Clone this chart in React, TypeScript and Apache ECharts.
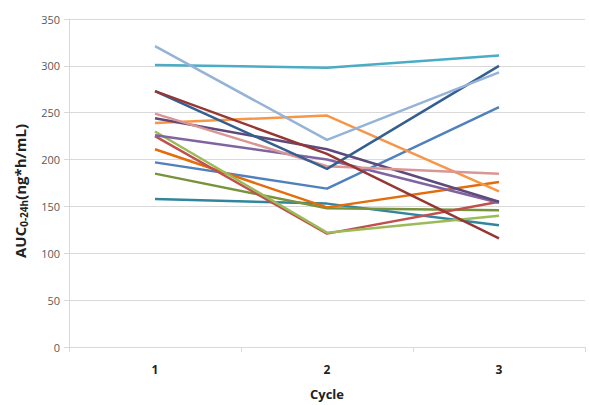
import React, { useEffect, useRef } from "react";
import * as echarts from "echarts";

const cycles = ["1", "2", "3"];
const yTicks = [0, 50, 100, 150, 200, 250, 300, 350];

const sTealDark = [158, 153, 130];
const sOlive = [185, 148, 146];
const sBlue = [197, 169, 256];
const sOrangeDark = [211, 149, 176];
const sRed = [225, 121, 155];
const sLightGreen = [230, 122, 140];
const sPurple2 = [226, 200, 154];
const sOrange = [239, 247, 166];
const sPurple1 = [244, 211, 155];
const sPink = [249, 193, 185];
const sDarkBlue = [273, 190, 300];
const sDarkRed = [273, 206, 116];
const sTeal = [301, 298, 311];
const sLightBlue = [321, 221, 293];

const seriesList: { data: number[]; color: string }[] = [
  { data: sTealDark, color: "#31859C" },
  { data: sOlive, color: "#77933C" },
  { data: sBlue, color: "#4F81BD" },
  { data: sOrangeDark, color: "#E46C0A" },
  { data: sRed, color: "#C0504D" },
  { data: sLightGreen, color: "#9BBB59" },
  { data: sPurple2, color: "#8064A2" },
  { data: sOrange, color: "#F79646" },
  { data: sPurple1, color: "#604A7B" },
  { data: sPink, color: "#D99694" },
  { data: sDarkBlue, color: "#365F91" },
  { data: sDarkRed, color: "#953735" },
  { data: sTeal, color: "#4BACC6" },
  { data: sLightBlue, color: "#95B3D7" },
];

export default function App() {
  const ref = useRef<HTMLDivElement>(null);
  useEffect(() => {
    if (!ref.current) return;
    const chart = echarts.init(ref.current, undefined, { renderer: "svg" });
    chart.setOption({
      animation: false,
      backgroundColor: "#ffffff",
      grid: { left: 69, right: 5, top: 19, bottom: 57 },
      xAxis: {
        type: "category",
        data: cycles,
        boundaryGap: true,
        name: "Cycle",
        nameLocation: "middle",
        nameGap: 40,
        nameTextStyle: { fontFamily: "Open Sans", fontWeight: "bold", fontSize: 13, color: "#222" },
        axisLine: { lineStyle: { color: "#D9D9D9", width: 1 } },
        axisTick: { show: true, length: 5, lineStyle: { color: "#D9D9D9" } },
        axisLabel: { margin: 16, fontFamily: "Open Sans", fontWeight: "bold", fontSize: 12, color: "#222" },
        splitLine: { show: false },
      },
      yAxis: {
        type: "value",
        min: yTicks[0],
        max: yTicks[yTicks.length - 1],
        interval: 50,
        name: "{a|AUC}{s|0-24h}{a|(ng*h/mL)}",
        nameLocation: "middle",
        nameRotate: 90,
        nameGap: 40,
        nameTextStyle: {
          padding: [0, 16, 0, 0],
          rich: {
            a: { fontFamily: "Open Sans", fontWeight: "bold", fontSize: 15, color: "#222" },
            s: { fontFamily: "Open Sans", fontWeight: "bold", fontSize: 10, color: "#222", padding: [9, 0, 0, 0] },
          },
        },
        axisLine: { show: true, lineStyle: { color: "#D9D9D9", width: 1 } },
        axisTick: { show: true, length: 5, lineStyle: { color: "#D9D9D9" } },
        axisLabel: { margin: 9, fontFamily: "Open Sans", fontSize: 11, color: "#595959" },
        splitLine: { show: true, lineStyle: { color: "#D9D9D9", width: 1 } },
      },
      series: seriesList.map((s) => ({
        type: "line",
        data: s.data,
        showSymbol: false,
        symbol: "none",
        lineStyle: { color: s.color, width: 2.5 },
        itemStyle: { color: s.color },
      })),
    });
    return () => chart.dispose();
  }, []);
  return <div ref={ref} style={{ width: 590, height: 405, position: "absolute", left: 0, top: 0 }} />;
}
